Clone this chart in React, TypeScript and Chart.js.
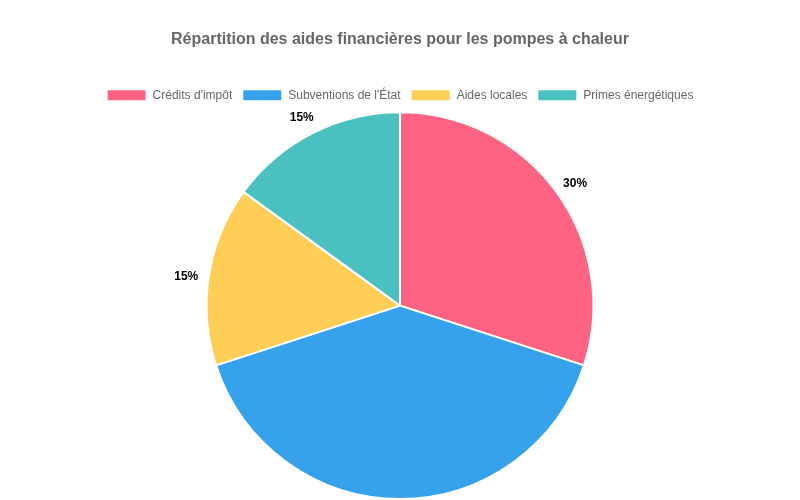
import { useEffect, useRef } from "react";
import { Chart, registerables, Plugin } from "chart.js";

Chart.register(...registerables);

const categories = [
  "Crédits d'impôt",
  "Subventions de l'État",
  "Aides locales",
  "Primes énergétiques",
];
const shares = [30, 40, 15, 15];
const colors = ["#FF6384", "#36A2EB", "#FFCE56", "#4BC0C0"];

// draws "xx%" just outside each slice
const outsideLabels: Plugin<"pie"> = {
  id: "outsideLabels",
  afterDatasetsDraw(chart) {
    const ctx = chart.ctx;
    const meta = chart.getDatasetMeta(0);
    const total = shares.reduce((a, b) => a + b, 0);
    ctx.save();
    ctx.font = "bold 12px 'Liberation Sans', Arial, sans-serif";
    ctx.fillStyle = "#000";
    ctx.textAlign = "center";
    ctx.textBaseline = "middle";
    meta.data.forEach((arc: any, i) => {
      const mid = (arc.startAngle + arc.endAngle) / 2;
      const r = arc.outerRadius + 23;
      const x = arc.x + Math.cos(mid) * r;
      const y = arc.y + Math.sin(mid) * r + 5;
      ctx.fillText(Math.round((shares[i] / total) * 100) + "%", x, y);
    });
    ctx.restore();
  },
};

export default function App() {
  const canvasRef = useRef<HTMLCanvasElement | null>(null);

  useEffect(() => {
    if (!canvasRef.current) {
      return;
    }
    Chart.defaults.font.family = "'Liberation Sans', Arial, sans-serif";

    const chart = new Chart(canvasRef.current, {
      type: "pie",
      data: {
        labels: categories,
        datasets: [
          {
            data: shares,
            backgroundColor: colors,
            borderColor: "#fff",
            borderWidth: 2,
          },
        ],
      },
      options: {
        animation: false,
        responsive: true,
        maintainAspectRatio: false,
        plugins: {
          title: {
            display: true,
            text: "Répartition des aides financières pour les pompes à chaleur",
            color: "#666",
            font: { size: 16, weight: "bold" },
            padding: { top: 30, bottom: 30 },
          },
          legend: {
            position: "top",
            labels: {
              color: "#666",
              font: { size: 12 },
            },
          },
          tooltip: { enabled: false },
        },
      },
      plugins: [outsideLabels],
    });

    return () => {
      chart.destroy();
    };
  }, []);

  return (
    <div style={{ position: "absolute", left: 0, top: 0, width: 800, height: 500 }}>
      <canvas ref={canvasRef}></canvas>
    </div>
  );
}
